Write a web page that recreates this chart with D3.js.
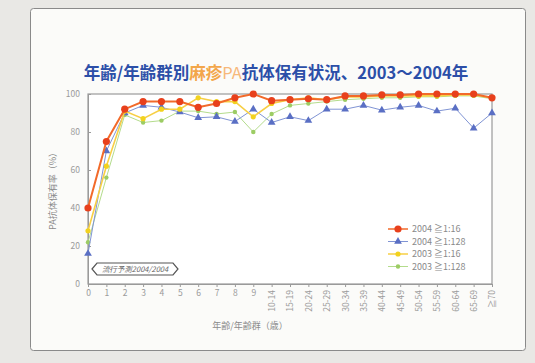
<!DOCTYPE html>
<html>
<head>
<meta charset="utf-8">
<script src="https://cdn.jsdelivr.net/npm/d3@7"></script>
<style>
  body { margin: 0; background: #e9e8e5; }
  svg { display: block; }
  text { font-family: "Noto Sans CJK JP", "Noto Sans", sans-serif; }
</style>
</head>
<body>
<svg id="drawing_region"></svg>
<script>
// categories (age / age group)
const ages = ['0','1','2','3','4','5','6','7','8','9',
    '10-14','15-19','20-24','25-29','30-34','35-39','40-44','45-49',
    '50-54','55-59','60-64','65-69','≧70'];

// seropositive rates (%)
const r2004_16  = [40, 75, 92, 96, 96, 96, 93, 95, 98, 100, 96.5, 97, 97.5, 97, 99, 99, 99.5, 99.5, 100, 100, 100, 100, 98];
const r2004_128 = [16, 70, 90, 94, 93, 90.5, 87.5, 88, 85.5, 92, 85, 88, 86, 92, 92, 94, 91.5, 93, 94, 91, 92.5, 82, 90];
const r2003_16  = [28, 62, 91, 87, 92, 92, 98, 96, 96, 88, 95, 97, 98, 97, 98.5, 98.5, 99, 99, 99, 99, 99.5, 99.5, 98];
const r2003_128 = [22, 56, 89, 85, 86, 91, 91, 89.5, 90.5, 80, 89.5, 94, 95, 96, 97, 97.5, 98, 98, 98.5, 98.5, 99, 99, 97.5];

const yTicks = [0, 20, 40, 60, 80, 100];

const seriesNames = ['2004 ≧1:16', '2004 ≧1:128', '2003 ≧1:16', '2003 ≧1:128'];

class LineChart {
    constructor(config, series) {
        this.config = {
            parent: config.parent,
            width: config.width || 535,
            height: config.height || 363,
            margin: config.margin || {top: 94, right: 43, bottom: 79, left: 88}
        };
        this.series = series;
        this.init();
    }

    init() {
        let self = this;

        self.svg = d3.select(self.config.parent)
            .attr('width', self.config.width)
            .attr('height', self.config.height);

        // outer panel
        self.svg.append('rect')
            .attr('x', 30.5).attr('y', 8.5)
            .attr('width', 495).attr('height', 342)
            .attr('rx', 3)
            .attr('fill', '#fbfbf9')
            .attr('stroke', '#8a8a8a');

        self.chart = self.svg.append('g')
            .attr('transform', `translate(${self.config.margin.left}, ${self.config.margin.top})`);

        self.inner_width = self.config.width - self.config.margin.left - self.config.margin.right;
        self.inner_height = self.config.height - self.config.margin.top - self.config.margin.bottom;
    }

    update() {
        let self = this;

        self.xscale = d3.scalePoint()
            .domain(ages)
            .range([0, self.inner_width]);

        self.yscale = d3.scaleLinear()
            .domain([0, 100])
            .range([self.inner_height, 0]);

        self.xaxis = d3.axisBottom(self.xscale)
            .tickSize(3)
            .tickSizeOuter(0);

        self.yaxis = d3.axisLeft(self.yscale)
            .tickValues(yTicks)
            .tickSize(-3)
            .tickPadding(8)
            .tickSizeOuter(0);

        self.render();
    }

    render() {
        let self = this;

        // plot frame
        self.chart.append('rect')
            .attr('width', self.inner_width)
            .attr('height', self.inner_height)
            .attr('fill', '#ffffff')
            .attr('stroke', '#9a9a9a')
            .attr('stroke-width', 1.2);

        self.xaxis_group = self.chart.append('g')
            .attr('transform', `translate(0, ${self.inner_height})`)
            .call(self.xaxis);

        self.xaxis_group.selectAll('text')
            .attr('fill', '#9a9a9a')
            .style('font-size', '8.5px')
            .filter((d, i) => i >= 10)
            .attr('transform', 'rotate(-90)')
            .attr('text-anchor', 'end')
            .attr('x', -6)
            .attr('y', 0)
            .attr('dy', '0.35em');

        self.yaxis_group = self.chart.append('g')
            .call(self.yaxis);
        self.yaxis_group.selectAll('text')
            .attr('fill', '#9a9a9a')
            .style('font-size', '8.5px');

        self.chart.selectAll('.domain, .tick line')
            .attr('stroke', '#9a9a9a');

        const line = d3.line()
            .x((d, i) => self.xscale(ages[i]))
            .y(d => self.yscale(d));

        // draw from back to front
        const order = [3, 1, 2, 0];
        order.forEach(k => {
            const s = self.series[k];
            self.chart.append('path')
                .datum(s.values)
                .attr('fill', 'none')
                .attr('stroke', s.line)
                .attr('stroke-width', s.width)
                .attr('d', line);

            self.drawMarkers(self.chart, s, s.values.map((v, i) => [self.xscale(ages[i]), self.yscale(v)]));
        });

        self.legend();
        self.labels();
    }

    drawMarkers(g, s, points) {
        if (s.shape === 'triangle') {
            g.selectAll(null).data(points).join('path')
                .attr('transform', d => `translate(${d[0]}, ${d[1]})`)
                .attr('d', d3.symbol(d3.symbolTriangle, s.size))
                .attr('fill', s.mark);
        } else {
            g.selectAll(null).data(points).join('circle')
                .attr('cx', d => d[0])
                .attr('cy', d => d[1])
                .attr('r', s.r)
                .attr('fill', s.mark);
        }
    }

    legend() {
        let self = this;
        const lg = self.svg.append('g')
            .attr('transform', 'translate(388, 229)');

        self.series.forEach((s, i) => {
            const row = lg.append('g').attr('transform', `translate(0, ${i * 12.5})`);
            row.append('line')
                .attr('x1', 0).attr('x2', 20)
                .attr('stroke', s.line)
                .attr('stroke-width', Math.min(s.width, 1.5));
            self.drawMarkers(row, s, [[10, 0]]);
            row.append('text')
                .attr('x', 24).attr('y', 0)
                .attr('dy', '0.35em')
                .attr('fill', '#8a8a8a')
                .style('font-size', '9px')
                .text(s.name);
        });
    }

    labels() {
        let self = this;
        const m = self.config.margin;

        // title
        const title = self.svg.append('text')
            .attr('x', 276).attr('y', 79)
            .attr('text-anchor', 'middle')
            .style('font-size', '16.5px')
            .style('font-weight', 'bold');
        title.append('tspan').attr('fill', '#2c4fa8').text('年齢/年齢群別');
        title.append('tspan').attr('fill', '#f3a64a').text('麻疹');
        title.append('tspan').attr('fill', '#f7b87a').style('font-weight', 'normal').text('PA');
        title.append('tspan').attr('fill', '#2c4fa8').text('抗体保有状況、2003～2004年');

        // y label
        self.svg.append('text')
            .attr('transform', `translate(56, ${m.top + self.inner_height / 2}) rotate(-90)`)
            .attr('text-anchor', 'middle')
            .attr('fill', '#8a8a8a')
            .style('font-size', '9px')
            .text('PA抗体保有率（%）');

        // x label
        self.svg.append('text')
            .attr('x', 250).attr('y', 329)
            .attr('text-anchor', 'middle')
            .attr('fill', '#8a8a8a')
            .style('font-size', '9px')
            .text('年齢/年齢群（歳）');

        // source badge
        const bx = 92, by = 263, bw = 86, bh = 12;
        self.svg.append('path')
            .attr('d', `M${bx},${by + bh / 2} L${bx + 5},${by} L${bx + bw - 5},${by} L${bx + bw},${by + bh / 2} L${bx + bw - 5},${by + bh} L${bx + 5},${by + bh} Z`)
            .attr('fill', '#ffffff')
            .attr('stroke', '#555')
            .attr('stroke-width', 1.2);
        self.svg.append('text')
            .attr('x', bx + bw / 2).attr('y', by + bh / 2)
            .attr('dy', '0.35em')
            .attr('text-anchor', 'middle')
            .attr('fill', '#666')
            .style('font-size', '7.5px')
            .style('font-style', 'italic')
            .text('流行予測2004/2004');
    }
}

const series = [
    {name: seriesNames[0], values: r2004_16,  line: '#f26a2a', mark: '#e8401c', width: 2,   shape: 'circle', r: 3.6},
    {name: seriesNames[1], values: r2004_128, line: '#8094d4', mark: '#5a6fc4', width: 1,   shape: 'triangle', size: 26},
    {name: seriesNames[2], values: r2003_16,  line: '#f7cf45', mark: '#f2d21e', width: 1.6, shape: 'circle', r: 2.6},
    {name: seriesNames[3], values: r2003_128, line: '#b4dc8c', mark: '#9ccc64', width: 1,   shape: 'circle', r: 2.2}
];

const chart = new LineChart({parent: '#drawing_region'}, series);
chart.update();
</script>
</body>
</html>
